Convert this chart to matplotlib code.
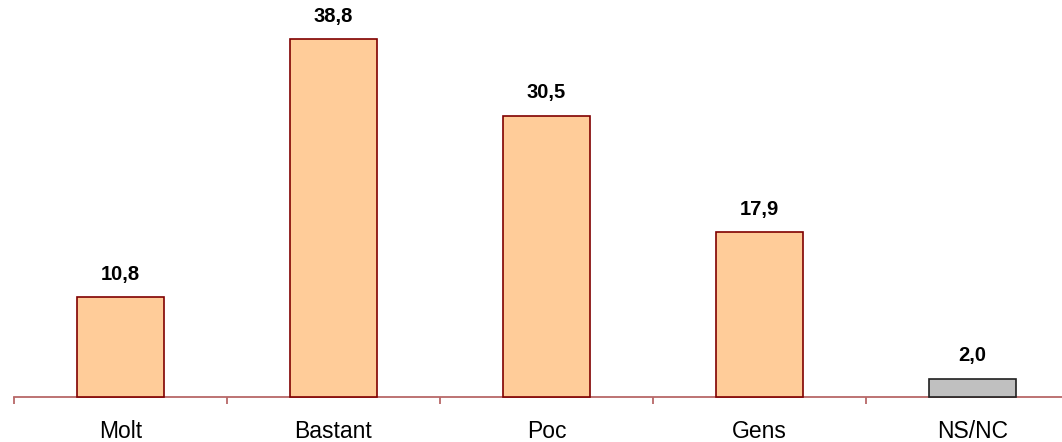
import matplotlib
matplotlib.use("Agg")
import matplotlib.pyplot as plt
from matplotlib.ticker import FixedLocator

categories = ["Molt", "Bastant", "Poc", "Gens", "NS/NC"]
values = [10.8, 38.8, 30.5, 17.9, 2.0]
fill_colors = ["#FFCC99", "#FFCC99", "#FFCC99", "#FFCC99", "#C0C0C0"]
edge_colors = ["#800000", "#800000", "#800000", "#800000", "#202020"]

plt.rcParams["font.family"] = ["Liberation Sans", "DejaVu Sans"]

W, H = 1062, 442
fig = plt.figure(figsize=(W / 100, H / 100), dpi=100)
left_px, axis_px = 14, 397
ax = fig.add_axes([left_px / W, (H - axis_px) / H, (W - left_px) / W, axis_px / H])

x = list(range(len(categories)))
bars = ax.bar(x, values, width=0.413, color=fill_colors, edgecolor=edge_colors,
              linewidth=1.2, zorder=3)
for b in bars:
    b.set_clip_on(False)

ax.set_xlim(-0.5, -0.5 + (W - left_px) / 213.0)
ax.set_ylim(0, axis_px / 9.22)

for s in ["top", "right", "left"]:
    ax.spines[s].set_visible(False)
ax.spines["bottom"].set_color("#B86868")
ax.spines["bottom"].set_linewidth(1.3)
ax.spines["bottom"].set_zorder(2)

ax.set_yticks([])
ax.set_xticks(x)
ax.set_xticklabels(categories, fontsize=16.5)
ax.tick_params(axis="x", which="major", length=0, pad=16.5)
ax.xaxis.set_minor_locator(FixedLocator([i - 0.5 for i in range(len(categories) + 1)]))
ax.tick_params(axis="x", which="minor", length=5, width=1.3, color="#B86868", direction="out")

for xi, v in zip(x, values):
    ax.annotate(f"{v:.1f}".replace(".", ","), xy=(xi, v), xytext=(0, 12.5),
                textcoords="offset points", ha="center", va="baseline",
                fontsize=14.5, fontweight="bold", color="black")

fig.savefig("out.png", dpi=100)
